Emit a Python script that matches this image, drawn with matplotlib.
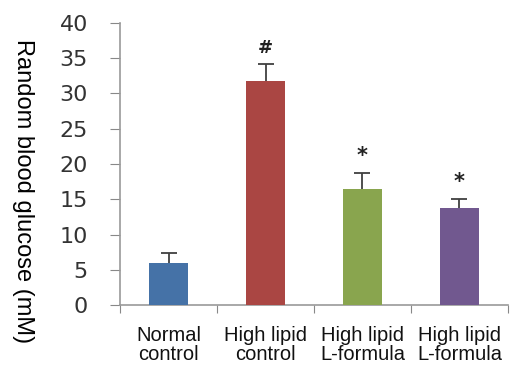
import numpy as np
import matplotlib
matplotlib.use("Agg")
import matplotlib.pyplot as plt

# data
groups = ["Normal\ncontrol", "High lipid\ncontrol", "High lipid\nL-formula", "High lipid\nL-formula"]
glucose = [6.0, 31.8, 16.5, 13.8]
sem = [1.4, 2.4, 2.2, 1.2]
marks = ["", "#", "*", "*"]
colors = ["#4572A7", "#AA4643", "#89A54E", "#71588F"]
yticks = [0, 5, 10, 15, 20, 25, 30, 35, 40]

fig = plt.figure(figsize=(5.11, 3.69), dpi=100)
ax = fig.add_axes([0.235, 0.173, 0.759, 0.765])

x = np.arange(len(groups)) + 0.5
ax.bar(x, glucose, width=0.41, color=colors, zorder=3)
# symmetric error bars drawn behind the bars, so only the upper half shows
ax.errorbar(x, glucose, yerr=sem, fmt="none",
            ecolor="#404040", elinewidth=1.3, capsize=5.8, capthick=1.3, zorder=2)

for xi, v, s, m in zip(x, glucose, sem, marks):
    if m:
        ax.text(xi, v + s + 1.0, m, ha="center", va="bottom",
                fontsize=15 if m == "*" else 13, fontweight="bold", color="#222222",
                family="DejaVu Sans")

ax.set_xlim(0, 4)
ax.set_ylim(0, 40)
ax.set_yticks(yticks)
ax.set_yticklabels([str(t) for t in yticks], fontsize=16, color="#333333", family="DejaVu Sans")

# ticks between categories, labels centred under bars
ax.set_xticks([0, 1, 2, 3, 4])
ax.set_xticklabels([])
ax.set_xticks(x, minor=True)
ax.set_xticklabels(groups, minor=True, fontsize=14.5, family="Liberation Sans",
                   color="#111111", linespacing=1.0)
ax.tick_params(axis="x", which="minor", length=0, pad=15)
ax.tick_params(axis="x", which="major", length=6, color="#888888", direction="out")
ax.tick_params(axis="y", length=7.2, color="#888888", direction="out", pad=16)

for side in ["top", "right"]:
    ax.spines[side].set_visible(False)
for side in ["left", "bottom"]:
    ax.spines[side].set_color("#999999")
    ax.spines[side].set_linewidth(1.2)

fig.text(0.045, 0.481, "Random blood glucose (mM)", rotation=270, ha="center", va="center",
         fontsize=17, family="Liberation Sans")

fig.savefig("out.png", dpi=100)
